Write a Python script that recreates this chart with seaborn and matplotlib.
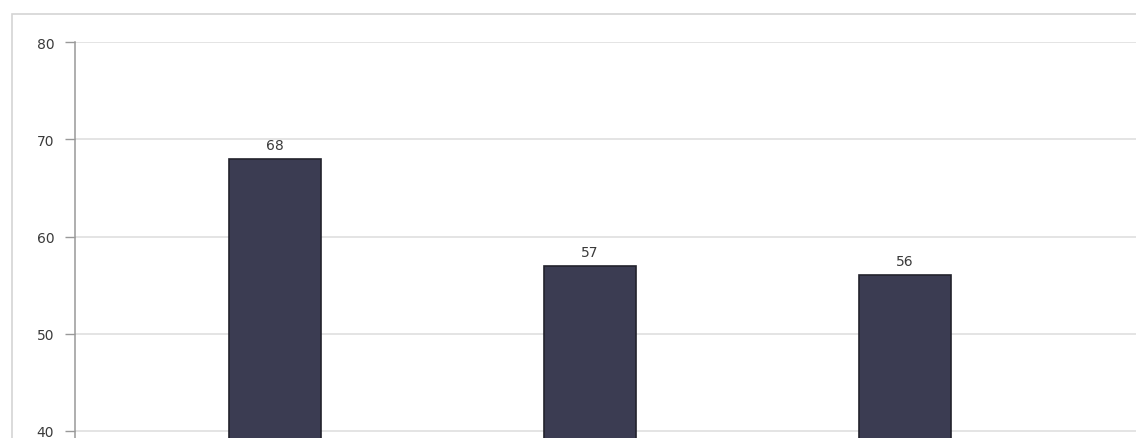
import matplotlib
matplotlib.use("Agg")
import matplotlib.pyplot as plt
import seaborn as sns
import pandas as pd
from matplotlib.patches import Rectangle

categories = ["A", "B", "C"]
values = [68, 57, 56]
yticks = [40, 50, 60, 70, 80]

sns.set_theme(style="white")
plt.rcParams['font.family'] = ['DejaVu Sans']

W, H = 1136, 439
fig = plt.figure(figsize=(W / 100, H / 100), dpi=100)
fig.patch.set_facecolor("white")

# outer chart frame (cropped at right/bottom)
fig.add_artist(Rectangle((12 / W, -0.05), 1.2, (H - 15) / H + 0.05,
                         transform=fig.transFigure, fill=False,
                         edgecolor="#d4d4d4", linewidth=1.2))

left = 75 / W
bottom = 0.0
top = (H - 43) / H
ax = fig.add_axes([left, bottom, 1.2, top - bottom])

df = pd.DataFrame({"cat": categories, "val": values})
sns.barplot(data=df, x="cat", y="val", ax=ax, color="#3b3c52",
            saturation=1, width=0.29, edgecolor="#22222c", linewidth=1.2)

# y-range: 80 at top, 40 at y=432px
px_per_unit = (432 - 43) / 40.0
ymin = 40 - (H - 432) / px_per_unit
ax.set_ylim(ymin, 80)
ax.set_xlim(-200 / 315, -200 / 315 + (W * 1.2) / 315)

ax.set_yticks(yticks)
ax.set_yticklabels([str(t) for t in yticks], fontsize=10, color="#3a3a3a")
ax.tick_params(axis="y", direction="out", length=7, width=1, color="#999999",
               pad=8, left=True)
ax.set_xticks([])
ax.set_xlabel("")
ax.set_ylabel("")

ax.grid(axis="y", color="#dcdcdc", linewidth=1.1)
ax.set_axisbelow(True)
for s in ["top", "right", "bottom"]:
    ax.spines[s].set_visible(False)
ax.spines["left"].set_color("#999999")
ax.spines["left"].set_linewidth(1.1)
ax.spines["left"].set_bounds(ymin, 80)

for c in ax.containers:
    ax.bar_label(c, labels=[str(v) for v in values], padding=5,
                 fontsize=10, color="#3a3a3a")

fig.savefig("out.png", dpi=100)
